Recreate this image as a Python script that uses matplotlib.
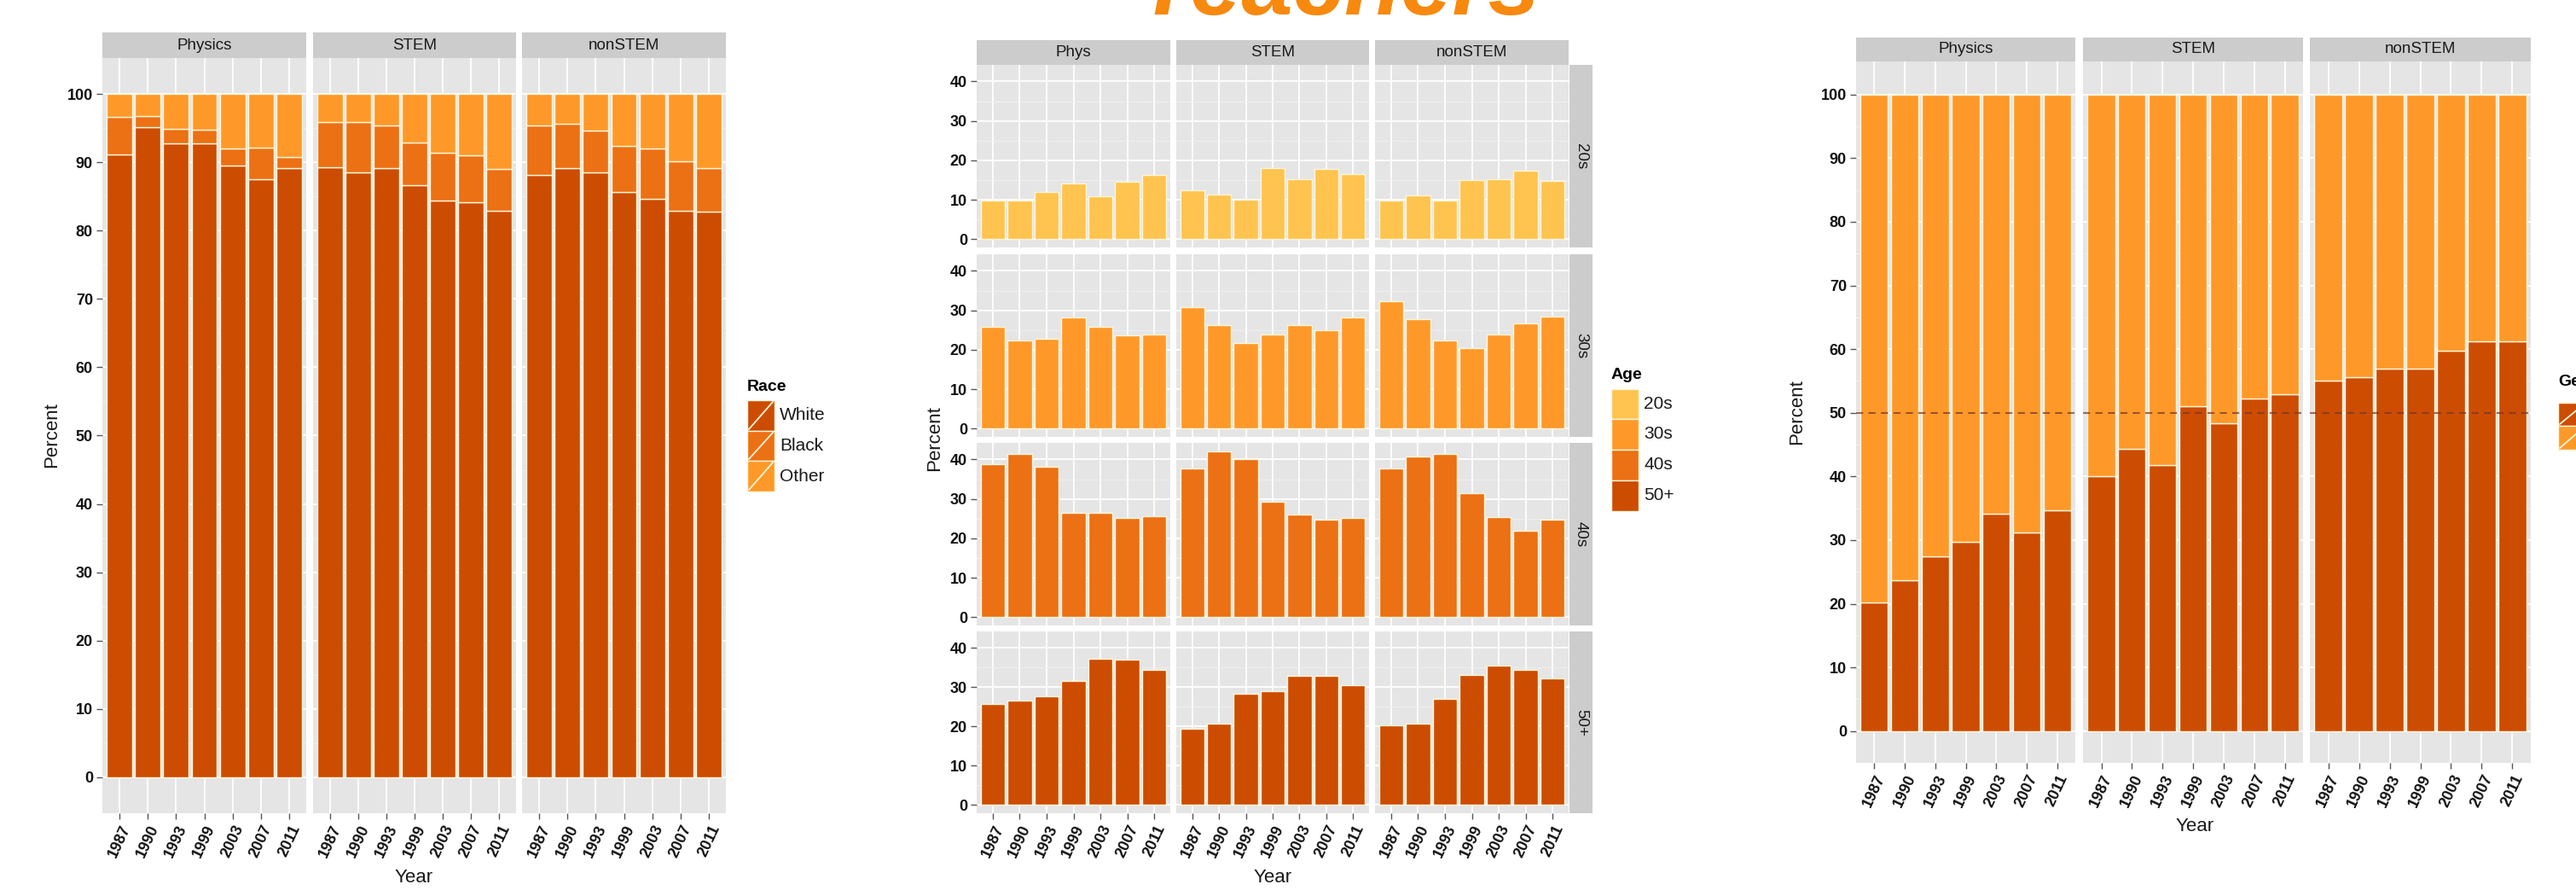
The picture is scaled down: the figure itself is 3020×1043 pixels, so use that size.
import matplotlib
matplotlib.use('Agg')
import matplotlib.pyplot as plt
from matplotlib.patches import Rectangle
from matplotlib.lines import Line2D

plt.rcParams['font.family'] = ['Liberation Sans', 'DejaVu Sans']

W, H = 3020, 1043

# ---- data (percent) ----
years = ['1987', '1990', '1993', '1999', '2003', '2007', '2011']
fields = ['Physics', 'STEM', 'nonSTEM']
age_fields = ['Phys', 'STEM', 'nonSTEM']
race_levels = ['White', 'Black', 'Other']
age_levels = ['20s', '30s', '40s', '50+']
gender_levels = ['Female', 'Male']

# race: white and black shares, other is the remainder
white = {
    'Physics': [91.2, 95.1, 92.8, 92.8, 89.5, 87.5, 89.1],
    'STEM':    [89.3, 88.5, 89.1, 86.6, 84.4, 84.2, 82.9],
    'nonSTEM': [88.1, 89.1, 88.5, 85.7, 84.7, 82.9, 82.8],
}
black = {
    'Physics': [5.4, 1.7, 2.1, 1.9, 2.5, 4.6, 1.7],
    'STEM':    [6.6, 7.4, 6.3, 6.3, 7.0, 6.8, 6.1],
    'nonSTEM': [7.3, 6.5, 6.1, 6.7, 7.3, 7.2, 6.3],
}

# age
age_20s = {
    'Phys':    [9.9, 9.9, 11.9, 14.2, 10.8, 14.6, 16.2],
    'STEM':    [12.4, 11.4, 10.1, 18.1, 15.3, 17.7, 16.5],
    'nonSTEM': [9.8, 11.0, 9.7, 15.1, 15.2, 17.4, 14.8],
}
age_30s = {
    'Phys':    [25.8, 22.3, 22.8, 28.1, 25.8, 23.6, 23.8],
    'STEM':    [30.7, 26.3, 21.8, 23.8, 26.2, 24.9, 28.1],
    'nonSTEM': [32.4, 27.7, 22.3, 20.5, 23.8, 26.6, 28.4],
}
age_40s = {
    'Phys':    [38.8, 41.4, 38.2, 26.5, 26.5, 25.1, 25.7],
    'STEM':    [37.7, 42.1, 40.1, 29.3, 26.0, 24.7, 25.2],
    'nonSTEM': [37.7, 40.8, 41.3, 31.4, 25.4, 21.9, 24.8],
}
age_50s = {
    'Phys':    [25.8, 26.7, 27.6, 31.6, 37.3, 37.0, 34.5],
    'STEM':    [19.5, 20.7, 28.4, 28.9, 32.9, 32.9, 30.5],
    'nonSTEM': [20.3, 20.8, 27.1, 33.2, 35.6, 34.4, 32.2],
}

# gender: female share, male is the remainder
female = {
    'Physics': [20.2, 23.7, 27.5, 29.7, 34.2, 31.2, 34.7],
    'STEM':    [40.0, 44.3, 41.8, 51.1, 48.3, 52.3, 52.9],
    'nonSTEM': [55.1, 55.6, 57.0, 57.0, 59.8, 61.2, 61.2],
}

race_colors = ['#CC4C02', '#EC7014', '#FE9929']
age_colors = ['#FEC44F', '#FE9929', '#EC7014', '#CC4C02']
gender_colors = ['#CC4C02', '#FE9929']
EDGE = '#FFF6D8'

fig = plt.figure(figsize=(W / 100, H / 100), dpi=100)


def add_ax(x0, y0, x1, y1):
    # pixel box, y measured from the top
    return fig.add_axes([x0 / W, 1 - y1 / H, (x1 - x0) / W, (y1 - y0) / H])


def style_panel(ax, ylim, major, minor, left, bottom, tsize=13):
    ax.set_facecolor('#E5E5E5')
    ax.set_xlim(0.4, 7.6)
    ax.set_ylim(*ylim)
    ax.set_xticks(range(1, 8))
    ax.set_yticks(major)
    ax.set_yticks(minor, minor=True)
    ax.grid(True, which='major', color='white', lw=1.3)
    ax.grid(True, which='minor', axis='y', color='#F2F2F2', lw=0.6)
    ax.set_axisbelow(True)
    for s in ax.spines.values():
        s.set_visible(False)
    ax.tick_params(which='minor', length=0)
    ax.tick_params(which='major', length=5, width=1, color='#555555', pad=3)
    if left:
        ax.set_yticklabels([str(v) for v in major], fontsize=tsize,
                           fontweight='bold', color='#111111')
    else:
        ax.tick_params(axis='y', length=0, labelleft=False)
    if bottom:
        ax.set_xticklabels(years, rotation=65, ha='center', va='top',
                           fontsize=tsize, fontweight='bold', color='#111111')
    else:
        ax.tick_params(axis='x', length=0, labelbottom=False)


def strip(x0, y0, x1, y1, label, rot=0):
    s = add_ax(x0, y0, x1, y1)
    s.set_facecolor('#CCCCCC')
    s.set_xticks([])
    s.set_yticks([])
    for sp in s.spines.values():
        sp.set_visible(False)
    s.text(0.5, 0.5, label, ha='center', va='center', rotation=rot,
           fontsize=13.5, color='#1A1A1A', transform=s.transAxes)


def legend(title, labels, colors, x0, ty, tops, kw, slash):
    fig.text(x0 / W, 1 - ty / H, title, fontsize=14, fontweight='bold',
             va='center', ha='left')
    for lab, col, (k0, k1) in zip(labels, colors, tops):
        fig.patches.append(Rectangle((x0 / W, 1 - k1 / H), kw / W, (k1 - k0) / H,
                                     transform=fig.transFigure, facecolor=col,
                                     edgecolor=EDGE, lw=1))
        if slash:
            fig.lines.append(Line2D([(x0 + 2) / W, (x0 + kw - 2) / W],
                                    [1 - (k1 - 2) / H, 1 - (k0 + 2) / H],
                                    transform=fig.transFigure, color=EDGE, lw=1.3))
        fig.text((x0 + kw + 6) / W, 1 - (k0 + k1) / 2 / H, lab, fontsize=15,
                 va='center', ha='left', color='#1A1A1A')


x = list(range(1, 8))

# ---------------- Race ----------------
race_cols = [(120, 359), (367, 605), (612, 851)]
for i, (f, (x0, x1)) in enumerate(zip(fields, race_cols)):
    ax = add_ax(x0, 68, x1, 953)
    style_panel(ax, (-5.25, 105.25), list(range(0, 101, 10)),
                list(range(5, 100, 10)), i == 0, True)
    w = white[f]
    b = black[f]
    o = [100 - a - c for a, c in zip(w, b)]
    wb = [a + c for a, c in zip(w, b)]
    ax.bar(x, w, 0.9, color=race_colors[0], edgecolor=EDGE, lw=1)
    ax.bar(x, b, 0.9, bottom=w, color=race_colors[1], edgecolor=EDGE, lw=1)
    ax.bar(x, o, 0.9, bottom=wb, color=race_colors[2], edgecolor=EDGE, lw=1)
    strip(x0, 38, x1, 68, f)
fig.text(61 / W, 1 - 510 / H, 'Percent', rotation=90, ha='center', va='center',
         fontsize=16, color='#1A1A1A')
fig.text(485 / W, 1 - 1028 / H, 'Year', ha='center', va='center', fontsize=16,
         color='#1A1A1A')
legend('Race', race_levels, race_colors, 876, 453,
       [(469, 505), (505, 540), (540, 576)], 32, True)

# ---------------- Age ----------------
age_cols = [(1145, 1372), (1379, 1605), (1612, 1839)]
age_rows = [(76, 290), (298, 512), (519, 733), (740, 953)]
age_data = [age_20s, age_30s, age_40s, age_50s]
for r, ((y0, y1), data) in enumerate(zip(age_rows, age_data)):
    for c, (f, (x0, x1)) in enumerate(zip(age_fields, age_cols)):
        ax = add_ax(x0, y0, x1, y1)
        style_panel(ax, (-2.1, 44.2), [0, 10, 20, 30, 40], [5, 15, 25, 35],
                    c == 0, r == 3)
        ax.bar(x, data[f], 0.9, color=age_colors[r], edgecolor=EDGE, lw=1)
        if r == 0:
            strip(x0, 47, x1, 76, f)
    strip(1840, y0, 1867, y1, age_levels[r], rot=-90)
fig.text(1096 / W, 1 - 514 / H, 'Percent', rotation=90, ha='center', va='center',
         fontsize=16, color='#1A1A1A')
fig.text(1492 / W, 1 - 1028 / H, 'Year', ha='center', va='center', fontsize=16,
         color='#1A1A1A')
legend('Age', age_levels, age_colors, 1889, 440,
       [(456, 491), (491, 527), (527, 563), (563, 599)], 32, False)

# ---------------- Gender ----------------
gen_cols = [(2176, 2433), (2442, 2700), (2708, 2967)]
for i, (f, (x0, x1)) in enumerate(zip(fields, gen_cols)):
    ax = add_ax(x0, 72, x1, 894)
    style_panel(ax, (-5.0, 105.2), list(range(0, 101, 10)),
                list(range(5, 100, 10)), i == 0, True)
    fm = female[f]
    ml = [100 - v for v in fm]
    ax.bar(x, fm, 0.9, color=gender_colors[0], edgecolor=EDGE, lw=1)
    ax.bar(x, ml, 0.9, bottom=fm, color=gender_colors[1], edgecolor=EDGE, lw=1)
    ax.axhline(50, color='#7A3A2A', ls=(0, (4, 3)), lw=1.5, alpha=0.75)
    strip(x0, 44, x1, 72, f)
fig.text(2107 / W, 1 - 483 / H, 'Percent', rotation=90, ha='center', va='center',
         fontsize=16, color='#1A1A1A')
fig.text(2573 / W, 1 - 968 / H, 'Year', ha='center', va='center', fontsize=16,
         color='#1A1A1A')
legend('Gender', gender_levels, gender_colors, 2999, 447,
       [(472, 499), (499, 527)], 32, True)

# title, mostly cut off at the top edge
fig.text(1333 / W, 1 - 17 / H, 'Teachers', ha='left', va='baseline', fontsize=78,
         fontweight='bold', style='italic', color='#F7890F')

fig.savefig('out.png', dpi=100, facecolor='white')
